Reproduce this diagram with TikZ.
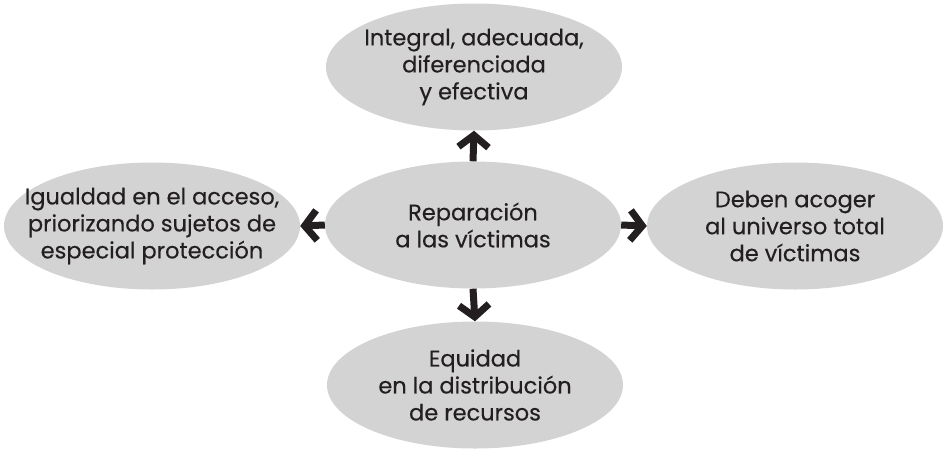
\documentclass[tikz,border=0pt]{standalone}
\usepackage{fontspec}
\setmainfont{Poppins}[FakeBold=0.3]
\usetikzlibrary{shapes.geometric,arrows.meta}
\definecolor{ellfill}{RGB}{211,211,211}
\definecolor{ink}{RGB}{35,31,32}
\tikzset{
  bubble/.style={ellipse, fill=ellfill, draw=none, inner sep=0pt,
    minimum width=296pt, minimum height=127pt},
  label/.style={align=center, inner sep=0pt, text=ink,
    font=\fontsize{22.5}{27}\selectfont},
  arr/.style={draw=ink, line width=7pt,
    -{Straight Barb[length=12pt,width=30pt,line width=7pt]}}
}
\begin{document}
\begin{tikzpicture}[x=1pt,y=-1pt]
\useasboundingbox (0,0) rectangle (944,450);
\node[bubble] (c) at (473,225) {};
\node[bubble] (t) at (474,67) {};
\node[bubble] (l) at (152,226) {};
\node[bubble] (r) at (795,226) {};
\node[bubble] (b) at (475,385) {};
\node[label] (ct) at (c) {Reparación\\a las víctimas};
\node[label] (tt) at (t) {Integral, adecuada,\\diferenciada\\y efectiva};
\node[label] (lt) at (l) {Igualdad en el acceso,\\priorizando sujetos de\\especial protección};
\node[label] (rt) at (r) {Deben acoger\\al universo total\\de víctimas};
\node[label] (bt) at (b) {Equidad\\en la distribución\\de recursos};
\draw[arr] (c.north) -- (t.south);
\draw[arr] (c.west) -- (l.east);
\draw[arr] (c.east) -- (r.west);
\draw[arr] (c.south) -- (b.north);
\end{tikzpicture}
\end{document}
